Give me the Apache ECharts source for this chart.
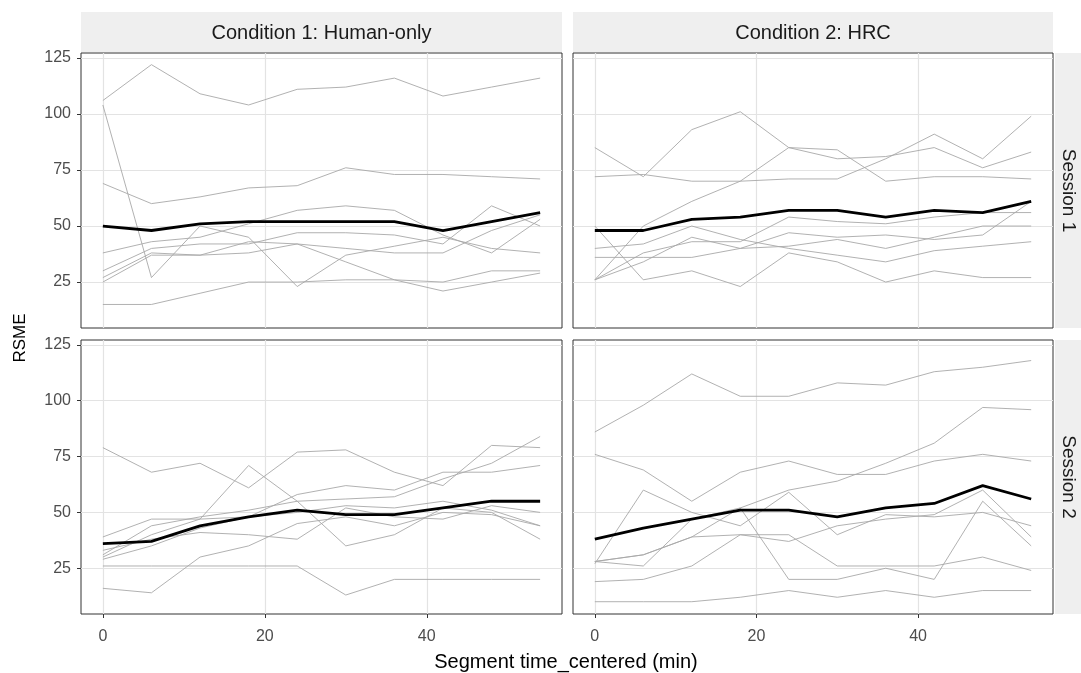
<!DOCTYPE html>
<html>
<head>
<meta charset="utf-8">
<script src="https://cdn.jsdelivr.net/npm/echarts@6/dist/echarts.min.js"></script>
<style>
html, body { margin: 0; padding: 0; background: #fff; }
#chart { width: 1081px; height: 673px; }
</style>
</head>
<body>
<div id="chart"></div>
<script>
// x positions of the segments (min)
var times = [0, 6, 12, 18, 24, 30, 36, 42, 48, 54];
var xTicks = [0, 20, 40];
var yTicks = [25, 50, 75, 100, 125];
var colLabels = ['Condition 1: Human-only', 'Condition 2: HRC'];
var rowLabels = ['Session 1', 'Session 2'];

// Condition 1, Session 1 - one row per participant
var c1s1 = [
  [106, 122, 109, 104, 111, 112, 116, 108, 112, 116],
  [69, 60, 63, 67, 68, 76, 73, 73, 72, 71],
  [104, 27, 50, 45, 23, 37, 41, 45, 40, 38],
  [38, 43, 45, 51, 57, 59, 57, 46, 38, 53],
  [30, 40, 42, 42, 47, 47, 46, 42, 59, 50],
  [27, 38, 37, 38, 42, 40, 38, 38, 48, 55],
  [25, 37, 37, 43, 42, 34, 26, 25, 30, 30],
  [15, 15, 20, 25, 25, 26, 26, 21, 25, 29]
];
var c1s1Mean = [50, 48, 51, 52, 52, 52, 52, 48, 52, 56];

// Condition 2, Session 1
var c2s1 = [
  [85, 72, 93, 101, 85, 84, 70, 72, 72, 71],
  [26, 50, 61, 70, 85, 80, 81, 85, 76, 83],
  [72, 73, 70, 70, 71, 71, 80, 91, 80, 99],
  [50, 26, 30, 23, 38, 34, 25, 30, 27, 27],
  [40, 42, 50, 44, 40, 37, 34, 39, 41, 43],
  [36, 36, 36, 40, 41, 44, 40, 45, 50, 50],
  [26, 38, 43, 43, 54, 52, 51, 54, 56, 56],
  [26, 34, 45, 40, 47, 45, 46, 44, 46, 61]
];
var c2s1Mean = [48, 48, 53, 54, 57, 57, 54, 57, 56, 61];

// Condition 1, Session 2
var c1s2 = [
  [79, 68, 72, 61, 77, 78, 68, 62, 80, 79],
  [30, 40, 47, 71, 55, 35, 40, 52, 50, 38],
  [39, 47, 47, 48, 58, 62, 60, 68, 68, 71],
  [31, 44, 48, 51, 55, 56, 57, 65, 72, 84],
  [29, 35, 43, 48, 50, 53, 52, 55, 51, 44],
  [26, 26, 26, 26, 26, 13, 20, 20, 20, 20],
  [16, 14, 30, 35, 45, 48, 44, 50, 49, 44],
  [33, 38, 41, 40, 38, 52, 48, 47, 53, 50]
];
var c1s2Mean = [36, 37, 44, 48, 51, 49, 49, 52, 55, 55];

// Condition 2, Session 2
var c2s2 = [
  [86, 98, 112, 102, 102, 108, 107, 113, 115, 118],
  [76, 69, 55, 68, 73, 67, 67, 73, 76, 73],
  [28, 31, 39, 52, 60, 64, 72, 81, 97, 96],
  [27, 60, 50, 44, 59, 40, 49, 48, 50, 44],
  [28, 26, 47, 52, 20, 20, 25, 20, 55, 35],
  [28, 31, 39, 40, 37, 44, 47, 49, 60, 39],
  [19, 20, 26, 40, 40, 26, 26, 26, 30, 24],
  [10, 10, 10, 12, 15, 12, 15, 12, 15, 15]
];
var c2s2Mean = [38, 43, 47, 51, 51, 48, 52, 54, 62, 56];

var FONT = '"Liberation Sans", Arial, sans-serif';

// order: top-left, top-right, bottom-left, bottom-right
var panels = [
  { lines: c1s1, mean: c1s1Mean, left: 81,  top: 53,  w: 481, h: 275, showX: false, showY: true },
  { lines: c2s1, mean: c2s1Mean, left: 573, top: 53,  w: 480, h: 275, showX: false, showY: false },
  { lines: c1s2, mean: c1s2Mean, left: 81,  top: 340, w: 481, h: 274, showX: true,  showY: true },
  { lines: c2s2, mean: c2s2Mean, left: 573, top: 340, w: 480, h: 274, showX: true,  showY: false }
];

function pairs(vals) {
  return times.map(function (t, j) { return [t, vals[j]]; });
}

var grids = [], xAxes = [], yAxes = [], series = [];
panels.forEach(function (p, i) {
  grids.push({
    left: p.left, top: p.top, width: p.w, height: p.h,
    show: true, borderColor: '#333333', borderWidth: 1, backgroundColor: '#fff'
  });
  xAxes.push({
    type: 'value', gridIndex: i, min: -2.7, max: 56.7,
    axisLine: { show: false, onZero: false },
    axisTick: { show: p.showX, customValues: xTicks, length: 4, lineStyle: { color: '#333' } },
    axisLabel: { show: p.showX, customValues: xTicks, margin: 15, color: '#4D4D4D', fontSize: 16, fontFamily: FONT },
    splitLine: { show: true, lineStyle: { color: '#E3E3E3', width: 1.2 } }
  });
  yAxes.push({
    type: 'value', gridIndex: i, min: 4.5, max: 127.2,
    axisLine: { show: false, onZero: false },
    axisTick: { show: p.showY, customValues: yTicks, length: 4, lineStyle: { color: '#333' } },
    axisLabel: { show: p.showY, customValues: yTicks, margin: 10, color: '#4D4D4D', fontSize: 16, fontFamily: FONT },
    splitLine: { show: true, lineStyle: { color: '#E3E3E3', width: 1.2 } }
  });
  p.lines.forEach(function (row) {
    series.push({
      type: 'line', xAxisIndex: i, yAxisIndex: i, data: pairs(row),
      symbol: 'none', silent: true, z: 2,
      lineStyle: { color: '#A8A8A8', width: 0.9 }
    });
  });
  series.push({
    type: 'line', xAxisIndex: i, yAxisIndex: i, data: pairs(p.mean),
    symbol: 'none', silent: true, z: 3,
    lineStyle: { color: '#000', width: 2.8 }
  });
});

var graphics = [];
// column strips
[0, 1].forEach(function (c) {
  var p = panels[c];
  graphics.push({ type: 'rect', shape: { x: p.left, y: 12, width: p.w, height: 40 }, style: { fill: '#EFEFEF' } });
  graphics.push({ type: 'text', x: p.left + p.w / 2, y: 33,
    style: { text: colLabels[c], fill: '#1A1A1A', font: '20px ' + FONT, align: 'center', verticalAlign: 'middle' } });
});
// row strips
[1, 3].forEach(function (k, r) {
  var p = panels[k];
  graphics.push({ type: 'rect', shape: { x: 1055, y: p.top, width: 26, height: p.h }, style: { fill: '#EFEFEF' } });
  graphics.push({ type: 'text', x: 1068, y: p.top + p.h / 2, rotation: -Math.PI / 2,
    style: { text: rowLabels[r], fill: '#1A1A1A', font: '19px ' + FONT, align: 'center', verticalAlign: 'middle' } });
});
// axis titles
graphics.push({ type: 'text', x: 20, y: 338, rotation: Math.PI / 2,
  style: { text: 'RSME', fill: '#000', font: '17px ' + FONT, align: 'center', verticalAlign: 'middle' } });
graphics.push({ type: 'text', x: 566, y: 662,
  style: { text: 'Segment time_centered (min)', fill: '#000', font: '20px ' + FONT, align: 'center', verticalAlign: 'middle' } });

var chart = echarts.init(document.getElementById('chart'), null, { renderer: 'canvas' });
chart.setOption({
  animation: false,
  backgroundColor: '#fff',
  grid: grids,
  xAxis: xAxes,
  yAxis: yAxes,
  series: series,
  graphic: graphics
});
</script>
</body>
</html>
